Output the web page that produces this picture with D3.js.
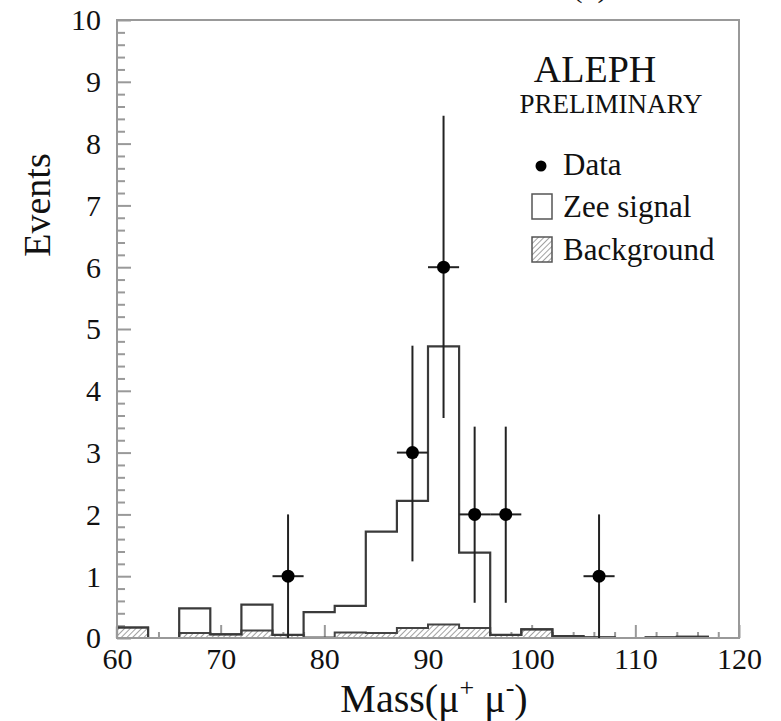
<!DOCTYPE html>
<html>
<head>
<meta charset="utf-8">
<script src="https://cdn.jsdelivr.net/npm/d3@7"></script>
<style>
  html, body { margin: 0; padding: 0; background: #fff; }
  svg { display: block; }
  text { font-family: "Liberation Serif", "Times New Roman", serif; fill: #111; }
</style>
</head>
<body>
<svg id="chart" width="781" height="721"></svg>
<script>
// Dimuon invariant mass, 3 GeV bins from 60 to 120
const binLow = [60, 63, 66, 69, 72, 75, 78, 81, 84, 87, 90, 93, 96, 99, 102, 105, 108, 111, 114, 117];
const binWidth = 3;
// Expected Zee signal (stacked on top of the background)
const zeeSignal = [0, 0, 0.40, 0, 0.42, 0, 0.41, 0.43, 1.64, 2.06, 4.50, 1.22, 0, 0, 0, 0, 0, 0, 0, 0];
// Expected background
const background = [0.17, 0, 0.08, 0.06, 0.12, 0.05, 0.01, 0.09, 0.08, 0.16, 0.22, 0.16, 0.05, 0.14, 0.03, 0.01, 0, 0.01, 0.02, 0];
// Observed events with error bars
const dataMass = [76.5, 88.5, 91.5, 94.5, 97.5, 106.5];
const dataEvents = [1, 3, 6, 2, 2, 1];
const errLow = [0, 1.24, 3.56, 0.57, 0.57, 0];
const errHigh = [2.0, 4.73, 8.45, 3.42, 3.42, 2.0];
// Axis ticks
const xTicks = [60, 70, 80, 90, 100, 110, 120];
const yTicks = [0, 1, 2, 3, 4, 5, 6, 7, 8, 9, 10];

const svg = d3.select("#chart");
const x = d3.scaleLinear().domain([60, 120]).range([117, 739]);
const y = d3.scaleLinear().domain([0, 10]).range([638, 20]);

// hatch pattern for the background histogram
const defs = svg.append("defs");
const pat = defs.append("pattern")
  .attr("id", "hatch").attr("patternUnits", "userSpaceOnUse")
  .attr("width", 4).attr("height", 4)
  .attr("patternTransform", "rotate(45)");
pat.append("rect").attr("width", 4).attr("height", 4).attr("fill", "#fff");
pat.append("line").attr("x1", 0).attr("y1", 0).attr("x2", 0).attr("y2", 4)
  .attr("stroke", "#8a8a8a").attr("stroke-width", 1.6);

// panel tag at the very top, mostly above the page edge
svg.append("text").attr("x", 590).attr("y", -3.5)
  .attr("text-anchor", "middle").attr("font-size", 30).text("(b)");

// y ticks (inward) with labels
const yMinor = d3.range(0, 10.001, 0.2).filter(v => Math.abs(v - Math.round(v)) > 1e-6);
const yMinorAxis = d3.axisLeft(y).tickValues(yMinor).tickSize(-8).tickFormat("");
const yAxis = d3.axisLeft(y).tickValues(yTicks).tickSizeInner(-14).tickSizeOuter(0).tickPadding(16).tickFormat(d3.format("d"));
svg.append("g").attr("transform", "translate(117,0)").call(yMinorAxis)
  .call(g => g.select(".domain").remove())
  .call(g => g.selectAll("line").attr("stroke", "#999").attr("stroke-width", 2));
svg.append("g").attr("transform", "translate(117,0)").call(yAxis)
  .call(g => g.select(".domain").remove())
  .call(g => g.selectAll("line").attr("stroke", "#999").attr("stroke-width", 2))
  .call(g => g.selectAll("text").attr("font-size", 30).attr("font-family", "Liberation Serif").attr("fill", "#111").attr("dy", "0.33em"));

// x ticks (inward) with labels
const xMinor = d3.range(60, 120.001, 2).filter(v => v % 10 !== 0);
const xMinorAxis = d3.axisBottom(x).tickValues(xMinor).tickSize(-6).tickFormat("");
const xAxis = d3.axisBottom(x).tickValues(xTicks).tickSizeInner(-13).tickSizeOuter(0).tickPadding(10).tickFormat(d3.format("d"));
svg.append("g").attr("transform", "translate(0,638)").call(xMinorAxis)
  .call(g => g.select(".domain").remove())
  .call(g => g.selectAll("line").attr("stroke", "#999").attr("stroke-width", 2));
svg.append("g").attr("transform", "translate(0,638)").call(xAxis)
  .call(g => g.select(".domain").remove())
  .call(g => g.selectAll("line").attr("stroke", "#999").attr("stroke-width", 2))
  .call(g => g.selectAll("text").attr("font-size", 30).attr("font-family", "Liberation Serif").attr("fill", "#111"));

// step outline of a binned histogram
function stepPoints(vals) {
  const pts = [[x(60), y(0)]];
  vals.forEach((v, i) => {
    pts.push([x(binLow[i]), y(v)]);
    pts.push([x(binLow[i] + binWidth), y(v)]);
  });
  pts.push([x(120), y(0)]);
  return pts;
}
const line = d3.line();

const total = zeeSignal.map((s, i) => s + background[i]);

// background: hatched area with outline
svg.append("path").attr("d", line(stepPoints(background)) + "Z")
  .attr("fill", "url(#hatch)").attr("stroke", "none");
svg.append("path").attr("d", line(stepPoints(background)))
  .attr("fill", "none").attr("stroke", "#444").attr("stroke-width", 2);

// signal + background outline
svg.append("path").attr("d", line(stepPoints(total)))
  .attr("fill", "none").attr("stroke", "#3a3a3a").attr("stroke-width", 2.2);

// frame
svg.append("rect").attr("x", 117).attr("y", 20).attr("width", 739 - 117).attr("height", 638 - 20)
  .attr("fill", "none").attr("stroke", "#999").attr("stroke-width", 2);

// data points with error bars
const pts = svg.append("g");
dataMass.forEach((m, i) => {
  pts.append("line").attr("x1", x(m)).attr("x2", x(m))
    .attr("y1", y(errLow[i])).attr("y2", y(errHigh[i]))
    .attr("stroke", "#222").attr("stroke-width", 2);
  pts.append("line").attr("x1", x(m - binWidth / 2)).attr("x2", x(m + binWidth / 2))
    .attr("y1", y(dataEvents[i])).attr("y2", y(dataEvents[i]))
    .attr("stroke", "#222").attr("stroke-width", 2);
  pts.append("circle").attr("cx", x(m)).attr("cy", y(dataEvents[i])).attr("r", 6.5).attr("fill", "#000");
});

// axis titles
svg.append("text").attr("transform", "translate(50,205) rotate(-90)")
  .attr("text-anchor", "middle").attr("font-size", 38).text("Events");
const xt = svg.append("text").attr("x", 434).attr("y", 712).attr("text-anchor", "middle").attr("font-size", 40);
xt.append("tspan").text("Mass(μ");
xt.append("tspan").attr("font-size", 26).attr("dy", -16).text("+");
xt.append("tspan").attr("dy", 16).text(" μ");
xt.append("tspan").attr("font-size", 26).attr("dy", -16).text("-");
xt.append("tspan").attr("dy", 16).text(")");

// experiment tag and legend
svg.append("text").attr("x", 595).attr("y", 82).attr("text-anchor", "middle").attr("font-size", 38).text("ALEPH");
svg.append("text").attr("x", 611).attr("y", 113).attr("text-anchor", "middle").attr("font-size", 27).text("PRELIMINARY");

const lg = svg.append("g");
lg.append("circle").attr("cx", 541).attr("cy", 166).attr("r", 5.5).attr("fill", "#000");
lg.append("text").attr("x", 563).attr("y", 175).attr("font-size", 31).text("Data");
lg.append("rect").attr("x", 532).attr("y", 194).attr("width", 20).attr("height", 25)
  .attr("fill", "#fff").attr("stroke", "#555").attr("stroke-width", 1.5);
lg.append("text").attr("x", 563).attr("y", 217).attr("font-size", 31).text("Zee signal");
lg.append("rect").attr("x", 532).attr("y", 237).attr("width", 20).attr("height", 25)
  .attr("fill", "url(#hatch)").attr("stroke", "#555").attr("stroke-width", 1.5);
lg.append("text").attr("x", 563).attr("y", 260).attr("font-size", 31).text("Background");
</script>
</body>
</html>
